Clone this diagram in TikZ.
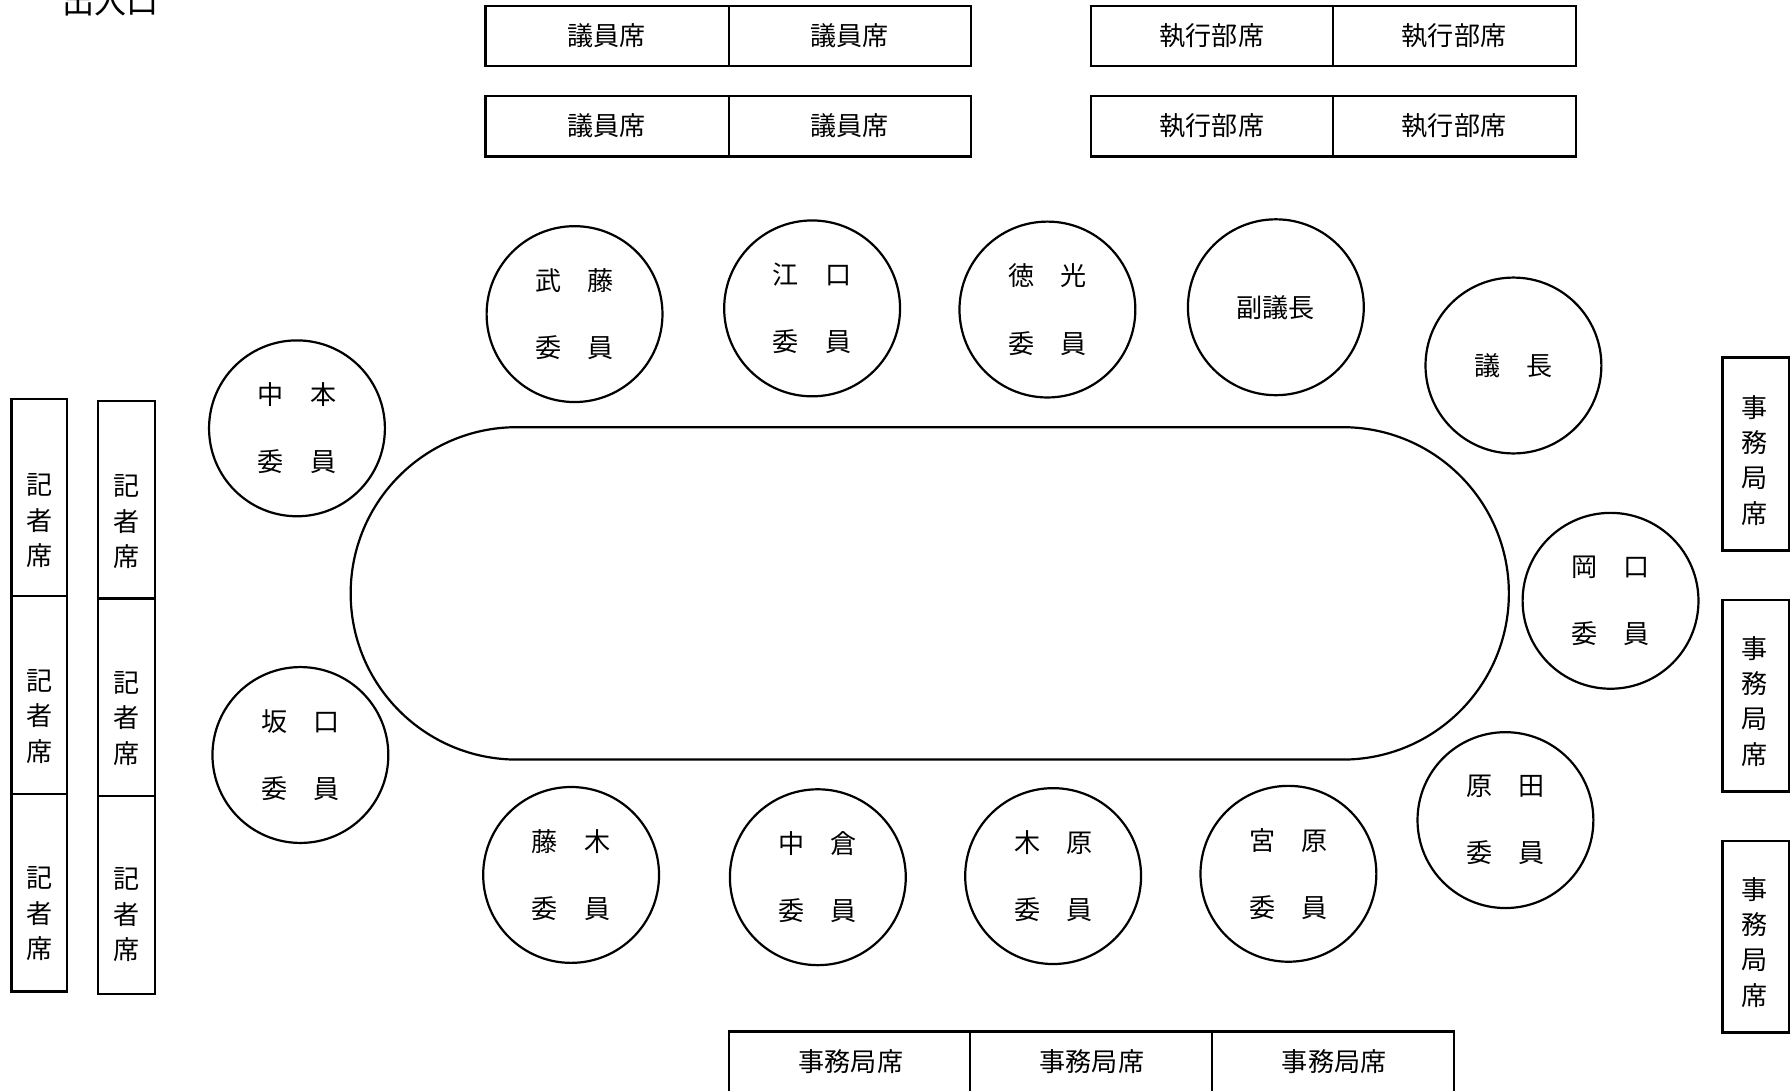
\documentclass[tikz,border=0pt]{standalone}
\usepackage{fontspec}
\setmainfont{Noto Sans CJK JP}

\begin{document}
\begin{tikzpicture}[x=0.02cm, y=0.02cm]
    \tikzstyle{every node}+=[inner sep=0pt, font=\fontsize{13}{15}\selectfont]
    \tikzstyle{seat}=[draw=black, circle, line width=1.1pt, minimum size=3.08cm, align=center, font=\fontsize{13}{33.5}\selectfont]
    \tikzstyle{vtext}=[align=center, font=\fontsize{13}{17.65}\selectfont]
    \useasboundingbox (0,0) rectangle (1568,-955);
    % entrance (cut at the top edge)
    \draw (97,-1) node [font=\fontsize{16}{18}\selectfont] (door) {出入口};
    % councillors' seats
    \draw [black, line width=1.1pt] (425,-5) rectangle (850,-58);
    \draw [black, line width=1.1pt] (638,-5) -- (638,-58);
    \draw (531,-31) node (giinA) {議員席};
    \draw (744,-31) node (giinB) {議員席};
    \draw [black, line width=1.1pt] (425,-84) rectangle (850,-137);
    \draw [black, line width=1.1pt] (638,-84) -- (638,-137);
    \draw (531,-110) node (giinC) {議員席};
    \draw (744,-110) node (giinD) {議員席};
    % executive seats
    \draw [black, line width=1.1pt] (955,-5) rectangle (1380,-58);
    \draw [black, line width=1.1pt] (1167,-5) -- (1167,-58);
    \draw (1061,-31) node (shikoA) {執行部席};
    \draw (1273,-31) node (shikoB) {執行部席};
    \draw [black, line width=1.1pt] (955,-84) rectangle (1380,-137);
    \draw [black, line width=1.1pt] (1167,-84) -- (1167,-137);
    \draw (1061,-110) node (shikoC) {執行部席};
    \draw (1273,-110) node (shikoD) {執行部席};
    % table
    \draw [black, line width=1.1pt, rounded corners=2.91cm] (307,-374) rectangle (1321,-665);
    % members
    \node [seat] (muto) at (503,-275) {武　藤\\委　員};
    \node [seat] (eguchi) at (711,-270) {江　口\\委　員};
    \node [seat] (tokumitsu) at (917,-271) {徳　光\\委　員};
    \node [seat] (fukugicho) at (1117,-269) {副議長};
    \node [seat] (gicho) at (1325,-320) {議　長};
    \node [seat] (nakamoto) at (260,-375) {中　本\\委　員};
    \node [seat] (sakaguchi) at (263,-661) {坂　口\\委　員};
    \node [seat] (okaguchi) at (1410,-526) {岡　口\\委　員};
    \node [seat] (harada) at (1318,-718) {原　田\\委　員};
    \node [seat] (fujiki) at (500,-766) {藤　木\\委　員};
    \node [seat] (nakakura) at (716,-768) {中　倉\\委　員};
    \node [seat] (kihara) at (922,-767) {木　原\\委　員};
    \node [seat] (miyahara) at (1128,-765) {宮　原\\委　員};
    % press seats
    \draw [black, line width=1.1pt] (10,-349) rectangle (59,-868);
    \draw [black, line width=1.1pt] (10,-522) -- (59,-522);
    \draw [black, line width=1.1pt] (10,-695) -- (59,-695);
    \draw (34.5,-456) node [vtext] (kishaA) {記\\者\\席};
    \draw (34.5,-627) node [vtext] (kishaB) {記\\者\\席};
    \draw (34.5,-800) node [vtext] (kishaC) {記\\者\\席};
    \draw [black, line width=1.1pt] (86,-351) rectangle (136,-870);
    \draw [black, line width=1.1pt] (86,-524) -- (136,-524);
    \draw [black, line width=1.1pt] (86,-697) -- (136,-697);
    \draw (111,-457) node [vtext] (kishaD) {記\\者\\席};
    \draw (111,-629) node [vtext] (kishaE) {記\\者\\席};
    \draw (111,-801) node [vtext] (kishaF) {記\\者\\席};
    % secretariat seats, right
    \draw [black, line width=1.1pt] (1508,-313) rectangle (1566,-482);
    \draw (1536,-403) node [vtext] (jimuA) {事\\務\\局\\席};
    \draw [black, line width=1.1pt] (1508,-525) rectangle (1566,-693);
    \draw (1536,-614) node [vtext] (jimuB) {事\\務\\局\\席};
    \draw [black, line width=1.1pt] (1508,-736) rectangle (1566,-904);
    \draw (1536,-825) node [vtext] (jimuC) {事\\務\\局\\席};
    % secretariat seats, bottom
    \draw [black, line width=1.1pt] (638,-903) rectangle (1273,-958);
    \draw [black, line width=1.1pt] (849,-903) -- (849,-958);
    \draw [black, line width=1.1pt] (1061,-903) -- (1061,-958);
    \draw (745,-929) node (jimuD) {事務局席};
    \draw (956,-929) node (jimuE) {事務局席};
    \draw (1168,-929) node (jimuF) {事務局席};
\end{tikzpicture}
\end{document}
